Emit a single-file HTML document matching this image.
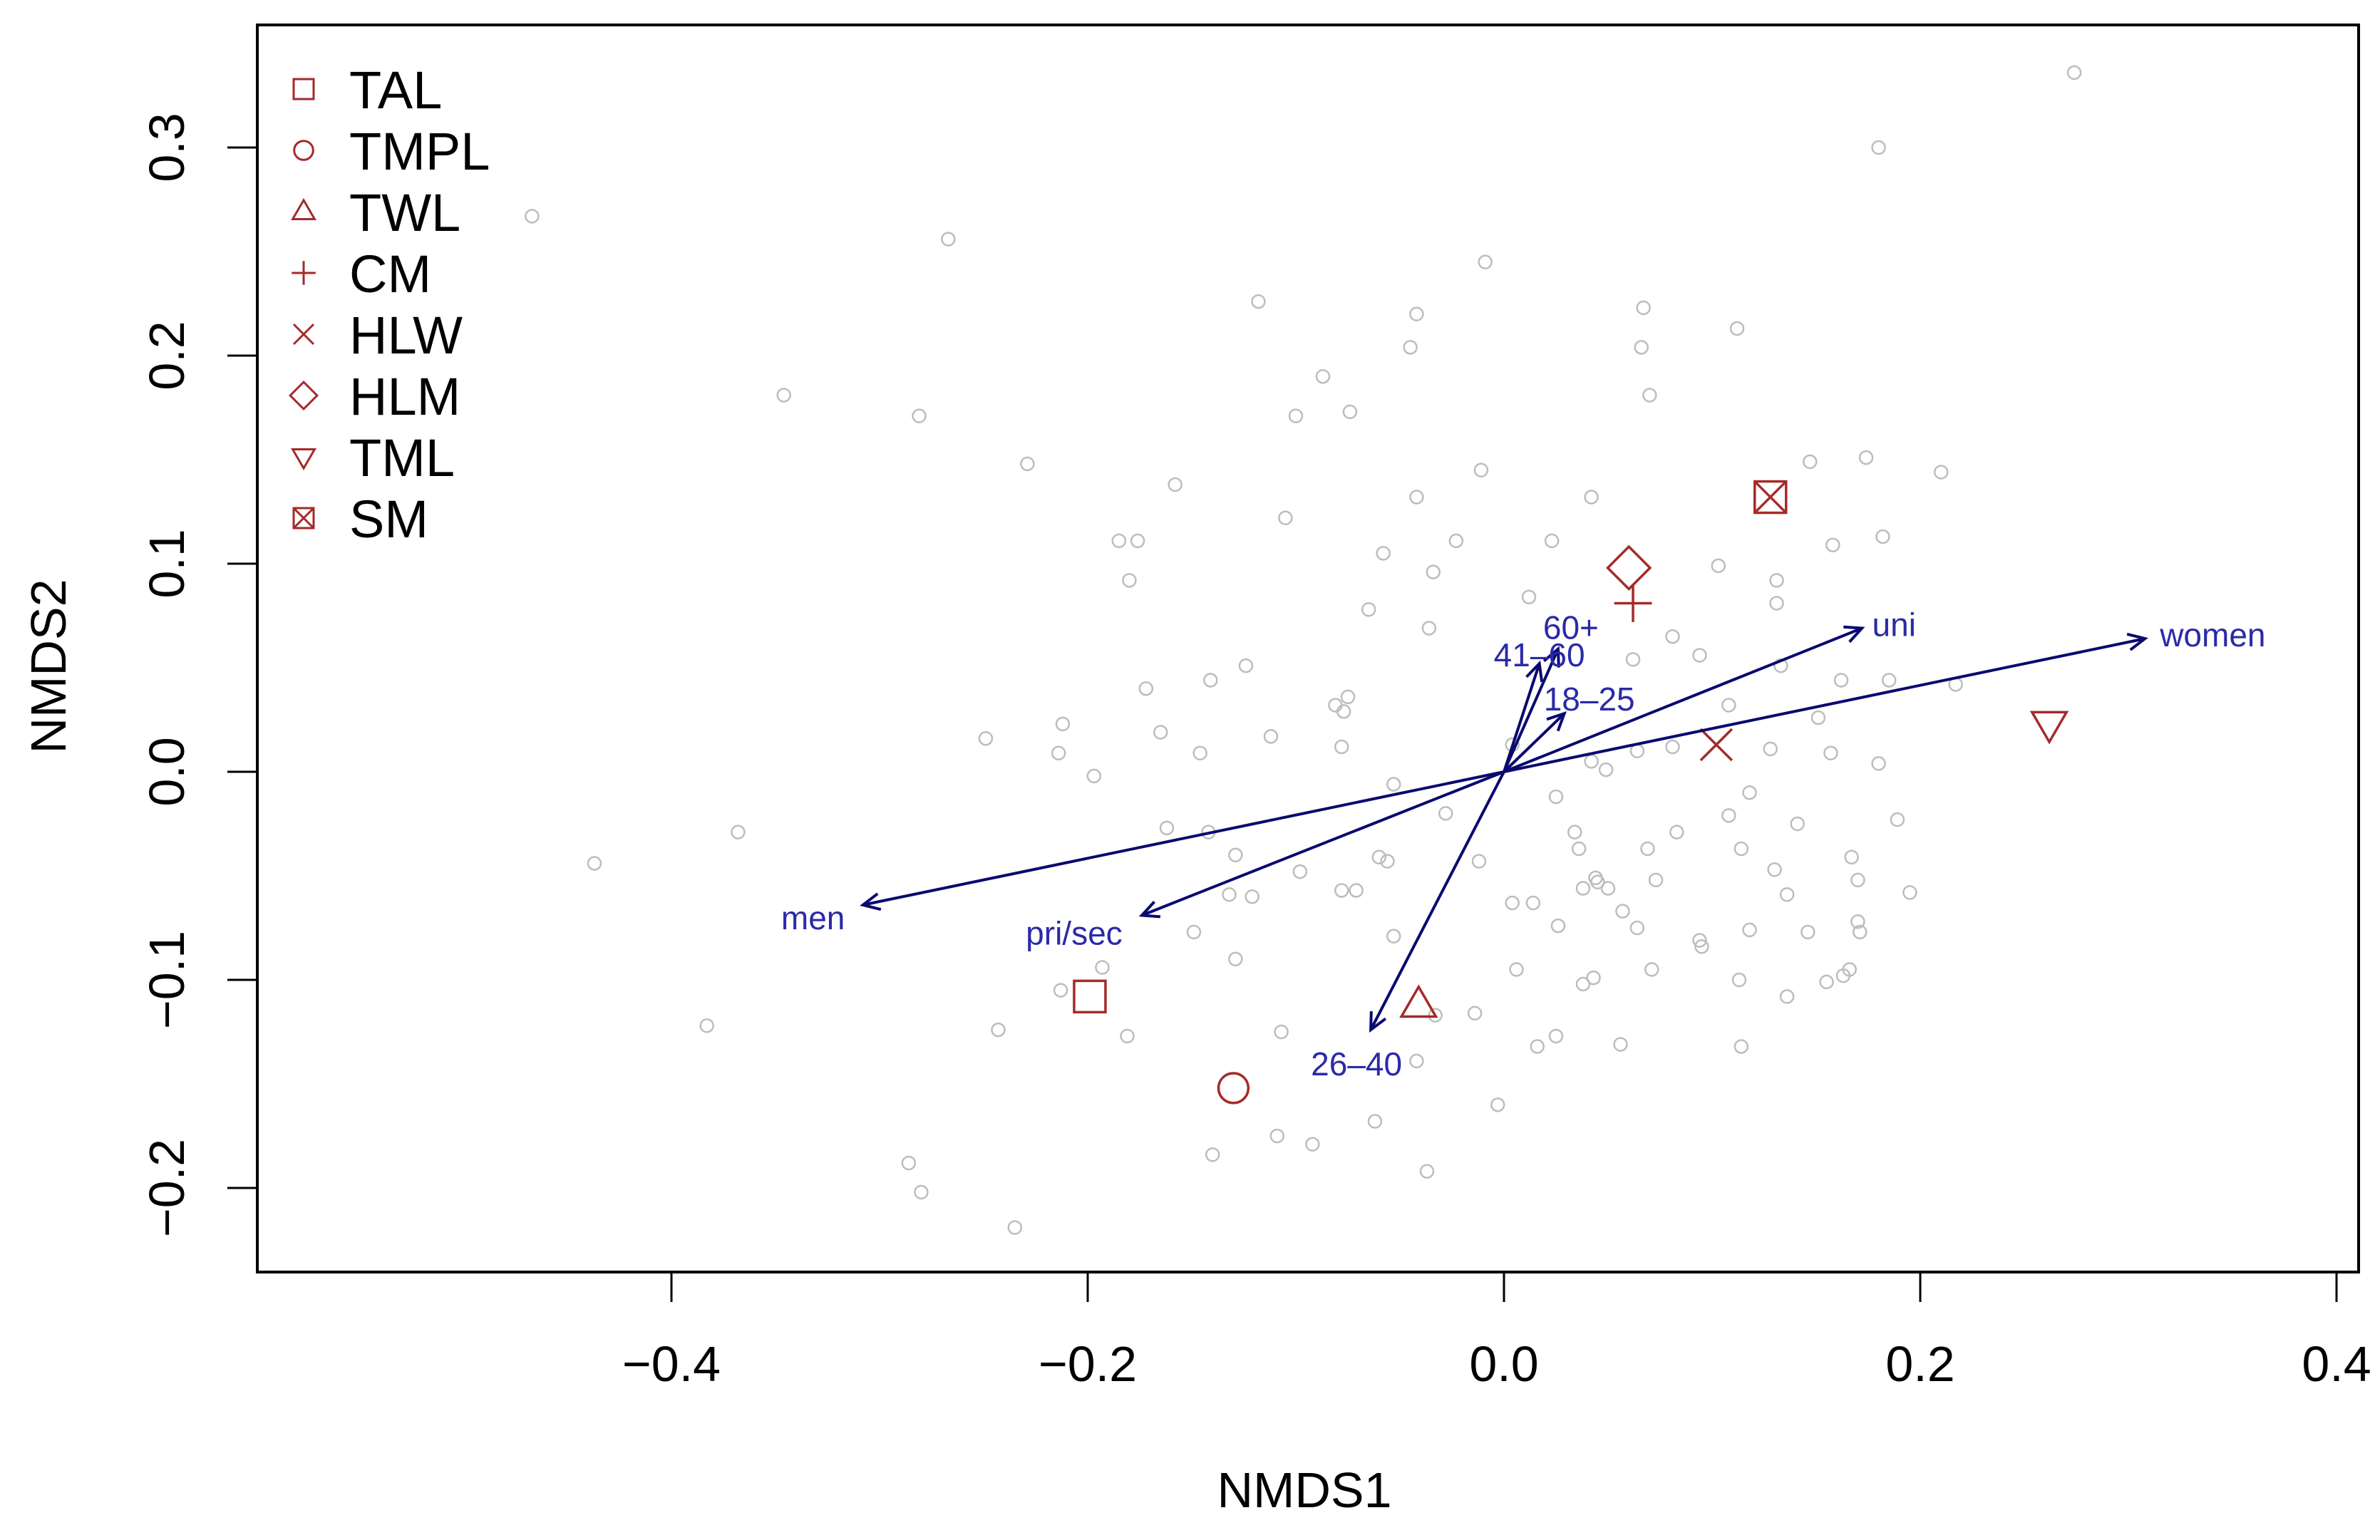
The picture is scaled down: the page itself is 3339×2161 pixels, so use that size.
<!DOCTYPE html>
<html><head><meta charset="utf-8"><style>html,body{margin:0;padding:0;background:#fff;}svg{display:block;}</style></head>
<body>
<svg id="chart" width="3339" height="2161" viewBox="0 0 3339 2161" xmlns="http://www.w3.org/2000/svg" font-family="Liberation Sans, Arial, sans-serif"></svg>
<script>
const xTicks=[-0.4,-0.2,0.0,0.2,0.4];
const xTickLabels=["\u22120.4","\u22120.2","0.0","0.2","0.4"];
const yTicks=[-0.2,-0.1,0.0,0.1,0.2,0.3];
const yTickLabels=["\u22120.2","\u22120.1","0.0","0.1","0.2","0.3"];
const siteX=[0.274,-0.467,-0.267,0.180,-0.009,-0.118,-0.042,0.067,-0.045,0.066,0.112,-0.346,-0.087,0.070,-0.281,-0.100,-0.074,-0.229,0.147,0.174,0.210,-0.011,-0.158,-0.042,0.042,-0.105,0.023,0.182,-0.185,-0.176,-0.023,-0.058,0.158,0.103,-0.034,0.131,-0.180,0.012,-0.065,0.131,0.081,-0.036,0.094,-0.124,0.062,0.133,0.185,0.217,-0.141,-0.172,0.162,-0.075,-0.081,-0.077,0.108,0.151,-0.212,-0.165,-0.249,-0.112,-0.078,0.128,0.157,0.081,0.064,-0.214,-0.146,0.180,0.042,0.004,-0.197,-0.053,0.049,0.118,0.025,0.189,0.108,-0.028,0.141,0.083,0.034,-0.162,-0.368,-0.142,0.114,0.069,0.036,0.167,-0.060,-0.056,-0.012,0.044,0.045,-0.437,-0.129,0.073,0.170,-0.098,0.130,0.050,0.038,0.195,-0.078,-0.071,-0.121,-0.132,0.136,0.014,0.004,0.057,0.026,0.170,0.171,0.064,0.118,0.146,0.094,0.095,-0.149,-0.053,0.071,0.006,-0.129,0.113,0.163,0.166,0.043,0.038,0.136,0.155,-0.213,-0.193,-0.243,-0.107,-0.033,-0.014,0.016,0.025,0.056,0.114,-0.181,-0.383,-0.042,-0.062,-0.003,-0.109,-0.092,-0.140,-0.037,-0.286,-0.280,-0.235];
const siteY=[0.336,0.267,0.256,0.300,0.245,0.226,0.220,0.223,0.204,0.204,0.213,0.181,0.190,0.181,0.171,0.171,0.173,0.148,0.149,0.151,0.144,0.145,0.138,0.132,0.132,0.122,0.111,0.113,0.111,0.111,0.111,0.105,0.109,0.099,0.096,0.092,0.092,0.084,0.078,0.081,0.065,0.069,0.056,0.051,0.054,0.051,0.044,0.042,0.044,0.040,0.044,0.036,0.032,0.029,0.032,0.026,0.023,0.019,0.016,0.017,0.012,0.011,0.009,0.012,0.010,0.009,0.009,0.004,0.005,0.013,-0.002,-0.006,0.001,-0.010,-0.012,-0.023,-0.021,-0.020,-0.025,-0.029,-0.029,-0.027,-0.029,-0.029,-0.037,-0.037,-0.037,-0.041,-0.041,-0.043,-0.043,-0.051,-0.053,-0.044,-0.040,-0.052,-0.052,-0.048,-0.047,-0.056,-0.056,-0.058,-0.057,-0.057,-0.060,-0.059,-0.059,-0.063,-0.063,-0.067,-0.074,-0.072,-0.077,-0.075,-0.076,-0.077,-0.081,-0.084,-0.077,-0.079,-0.095,-0.095,-0.090,-0.100,-0.098,-0.095,-0.099,-0.102,-0.108,-0.101,-0.105,-0.094,-0.124,-0.125,-0.117,-0.116,-0.132,-0.127,-0.131,-0.132,-0.127,-0.122,-0.139,-0.168,-0.160,-0.175,-0.179,-0.184,-0.192,-0.188,-0.202,-0.219];
const groupNames=["TAL","TMPL","TWL","CM","HLW","HLM","TML","SM"];
const groupX=[-0.199,-0.130,-0.041,0.062,0.102,0.060,0.262,0.128];
const groupY=[-0.108,-0.152,-0.112,0.081,0.013,0.098,0.023,0.132];
const vecNames=["women","men","uni","pri/sec","26\u201340","60+","41\u201360","18\u201325"];
const vecX=[0.308,-0.308,0.172,-0.174,-0.064,0.026,0.017,0.029];
const vecY=[0.064,-0.064,0.069,-0.069,-0.124,0.059,0.052,0.028];

const svg=document.getElementById('chart');
const NS='http://www.w3.org/2000/svg';
const L=361,R=3309,T=35,B=1785;
const X0=2110,Y0=1083,K=2920;
function sx(v){return X0+v*K;}
function sy(v){return Y0-v*K;}
function mk(tag,attrs,parent){const e=document.createElementNS(NS,tag);for(const k in attrs)e.setAttribute(k,attrs[k]);(parent||svg).appendChild(e);return e;}

// frame
const frame=mk('rect',{x:L,y:T,width:R-L,height:B-T,fill:'none',stroke:'#000','stroke-width':4});



// x axis
const xg=mk('g',{});


xTicks.forEach((t,i)=>{
  const ln=mk('line',{x1:sx(t),x2:sx(t),y1:B,y2:B+42,stroke:'#000','stroke-width':3},xg);
  
  
  const tx=mk('text',{x:sx(t),y:1938,'font-size':70,'text-anchor':'middle',fill:'#000'},xg);
  tx.textContent=xTickLabels[i];
  
  
});
const xt=mk('text',{x:1830,y:2115,'font-size':70,'text-anchor':'middle',fill:'#000'});
xt.textContent='NMDS1';



// y axis
const yg=mk('g',{});


yTicks.forEach((t,i)=>{
  const ln=mk('line',{x1:L-42,x2:L,y1:sy(t),y2:sy(t),stroke:'#000','stroke-width':3},yg);
  
  
  const tx=mk('text',{x:0,y:0,'font-size':70,'text-anchor':'middle',fill:'#000',transform:`translate(258,${sy(t)}) rotate(-90)`},yg);
  tx.textContent=yTickLabels[i];
  
  
});
const yt=mk('text',{x:0,y:0,'font-size':70,'text-anchor':'middle',fill:'#000',transform:'translate(92,935) rotate(-90)'});
yt.textContent='NMDS2';



// site points
const sg=mk('g',{});


siteX.forEach((v,i)=>{
  const c=mk('circle',{cx:sx(v),cy:sy(siteY[i]),r:9,fill:'none',stroke:'#bdbdbd','stroke-width':2.5},sg);
  
  
});

// symbols
const RED='#a52a2a';
function symbol(i,cx,cy,s,parent,sw){
  const g=mk('g',{fill:'none',stroke:RED,'stroke-width':sw},parent);
  const h=s/2;
  if(i===0){mk('rect',{x:cx-h,y:cy-h,width:s,height:s},g);}
  else if(i===1){mk('circle',{cx:cx,cy:cy,r:h*0.95},g);}
  else if(i===2){mk('polygon',{points:`${cx},${cy-h*1.15} ${cx-h*1.1},${cy+h*0.75} ${cx+h*1.1},${cy+h*0.75}`},g);}
  else if(i===3){mk('path',{d:`M${cx-h*1.2},${cy}H${cx+h*1.2}M${cx},${cy-h*1.2}V${cy+h*1.2}`},g);}
  else if(i===4){mk('path',{d:`M${cx-h},${cy-h}L${cx+h},${cy+h}M${cx-h},${cy+h}L${cx+h},${cy-h}`},g);}
  else if(i===5){mk('polygon',{points:`${cx},${cy-h*1.35} ${cx+h*1.35},${cy} ${cx},${cy+h*1.35} ${cx-h*1.35},${cy}`},g);}
  else if(i===6){mk('polygon',{points:`${cx},${cy+h*1.15} ${cx-h*1.1},${cy-h*0.75} ${cx+h*1.1},${cy-h*0.75}`},g);}
  else {mk('rect',{x:cx-h,y:cy-h,width:s,height:s},g);mk('path',{d:`M${cx-h},${cy-h}L${cx+h},${cy+h}M${cx-h},${cy+h}L${cx+h},${cy-h}`},g);}
  return g;
}
groupX.forEach((v,i)=>{
  const g=symbol(i,sx(v),sy(groupY[i]),44,svg,3.5);
  
  
});

// vectors
const NAVY='#0a0a6e';
const vg=mk('g',{});


const labelOff=[[95,-5],[-70,18],[45,-5],[-95,25],[-20,48],[18,-30],[0,-12],[35,-20]];
vecX.forEach((v,i)=>{
  const x2=sx(v),y2=sy(vecY[i]);
  const a=Math.atan2(y2-Y0,x2-X0);
  const hl=26,ha=0.45;
  const p=mk('path',{d:`M${X0},${Y0}L${x2},${y2}M${x2-hl*Math.cos(a-ha)},${y2-hl*Math.sin(a-ha)}L${x2},${y2}L${x2-hl*Math.cos(a+ha)},${y2-hl*Math.sin(a+ha)}`,fill:'none',stroke:NAVY,'stroke-width':4},vg);
  
  
  const t=mk('text',{x:x2+labelOff[i][0],y:y2+labelOff[i][1]+16,'font-size':46,'text-anchor':'middle',fill:'#2a2aa8'},vg);
  t.textContent=vecNames[i];
  
  
});

// legend
const lg=mk('g',{});


groupNames.forEach((n,i)=>{
  const cy=125+i*86;
  const e=mk('g',{},lg);
  
  
  symbol(i,426,cy,28,e,3);
  const t=mk('text',{x:490,y:cy+27,'font-size':74,fill:'#000'},e);
  t.textContent=n;
});
</script>
</body></html>
